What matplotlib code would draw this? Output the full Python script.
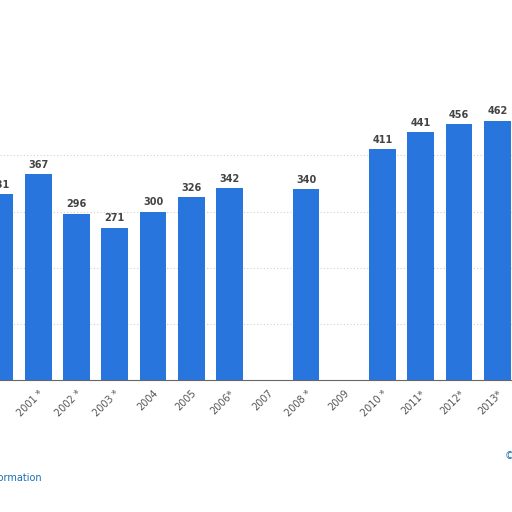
import matplotlib
matplotlib.use("Agg")
import matplotlib.pyplot as plt
import numpy as np

# Years shown (2007 and 2009 have no bar); the 2000 label falls off the left edge
years = ["", "2001 *", "2002 *", "2003 *", "2004", "2005", "2006*",
         "2007", "2008 *", "2009", "2010 *", "2011*", "2012*", "2013*"]
values = [331, 367, 296, 271, 300, 326, 342,
          None, 340, None, 411, 441, 456, 462]

BAR_COLOR = "#2876dd"

fig = plt.figure(figsize=(5.12, 5.12), dpi=100)
ax = fig.add_axes([0, 132 / 512, 1, 380 / 512])

x = np.arange(len(years))
for xi, v in zip(x, values):
    if v is None:
        continue
    ax.bar(xi, v, width=0.7, color=BAR_COLOR, zorder=3)
    ax.text(xi, v + 8, f"{v}", ha="center", va="bottom", fontsize=7,
            fontweight="bold", color="#444444")

ax.set_xlim(0.052, 13.385)
ax.set_ylim(0, 677)
ax.set_yticks([100, 200, 300, 400])
ax.yaxis.grid(True, linestyle=(0, (1, 2)), color="#d0d0d0", linewidth=0.8)
ax.set_axisbelow(True)
ax.tick_params(axis="y", left=False, labelleft=False)
ax.tick_params(axis="x", length=0, pad=6)
ax.set_xticks(x)
ax.set_xticklabels(years, rotation=45, ha="right", rotation_mode="anchor",
                   fontsize=7, color="#555555")
for s in ["top", "left", "right"]:
    ax.spines[s].set_visible(False)
ax.spines["bottom"].set_color("#666666")

fig.text(42 / 512, 1 - 478 / 512, "Additional Information", ha="right",
         va="center", fontsize=7, color="#1a6fb5")
fig.text(505 / 512, 1 - 456 / 512, "©", ha="left", va="center",
         fontsize=7, color="#1a6fb5")

fig.savefig("out.png", dpi=100)
